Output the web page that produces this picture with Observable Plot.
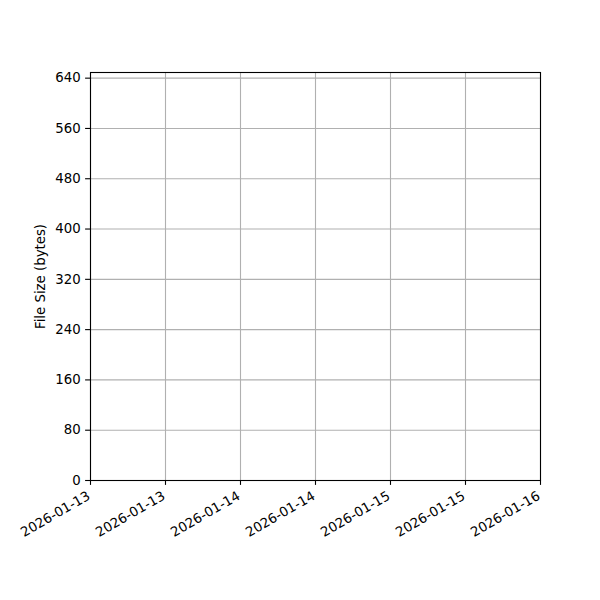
<!DOCTYPE html>
<html>
<head>
<meta charset="utf-8">
<script src="https://cdn.jsdelivr.net/npm/d3@7"></script>
<script src="https://cdn.jsdelivr.net/npm/@observablehq/plot@0.6"></script>
<style>
  html, body { margin: 0; padding: 0; background: white; }
</style>
</head>
<body>
<div id="chart"></div>
<script>
// Data (the reference chart has no data points plotted)
const dates = [];
const fileSizes = [];

// Axis ticks
const xTickStrings = [
  "2026-01-13T00:00:00Z", "2026-01-13T12:00:00Z",
  "2026-01-14T00:00:00Z", "2026-01-14T12:00:00Z",
  "2026-01-15T00:00:00Z", "2026-01-15T12:00:00Z",
  "2026-01-16T00:00:00Z"
];
const xTickLabels = [
  "2026-01-13", "2026-01-13", "2026-01-14", "2026-01-14",
  "2026-01-15", "2026-01-15", "2026-01-16"
];
const yTicks = [0, 80, 160, 240, 320, 400, 480, 560, 640];
const yMax = 649;
const yLabel = "File Size (bytes)";

const xTicks = xTickStrings.map(s => new Date(s));
const data = dates.map((d, i) => ({date: new Date(d), size: fileSizes[i]}));

const FS = 13.3;

const chart = Plot.plot({
  width: 600,
  height: 600,
  marginLeft: 90,
  marginRight: 60,
  marginTop: 72,
  marginBottom: 120,
  x: {type: "utc", domain: [xTicks[0], xTicks[xTicks.length - 1]]},
  y: {domain: [0, yMax]},
  style: {fontFamily: "DejaVu Sans", fontSize: FS + "px", color: "black", background: "white", overflow: "visible"},
  marks: [
    Plot.gridX(xTicks, {stroke: "#b0b0b0", strokeOpacity: 1, strokeWidth: 1.1}),
    Plot.gridY(yTicks, {stroke: "#b0b0b0", strokeOpacity: 1, strokeWidth: 1.1}),
    Plot.line(data, {x: "date", y: "size", stroke: "#1f77b4"}),
    Plot.frame({stroke: "black", strokeWidth: 1.1}),
    Plot.axisY({ticks: yTicks, tickSize: 4.9, tickPadding: 4.9, strokeWidth: 1.1, label: null, tickFormat: d => String(d), fontSize: FS}),
    Plot.axisX({ticks: xTicks, tickSize: 4.9, strokeWidth: 1.1, tickFormat: () => "", label: null}),
    Plot.text(xTicks, {
      x: d => d,
      text: (d, i) => xTickLabels[i],
      frameAnchor: "bottom",
      rotate: -30,
      textAnchor: "end",
      dx: 0.5,
      dy: 18,
      fontSize: FS
    }),
    Plot.text([yLabel], {
      text: d => d,
      frameAnchor: "left",
      textAnchor: "middle",
      rotate: -90,
      dx: -50,
      fontSize: FS
    })
  ]
});
document.getElementById("chart").appendChild(chart);
</script>
</body>
</html>
